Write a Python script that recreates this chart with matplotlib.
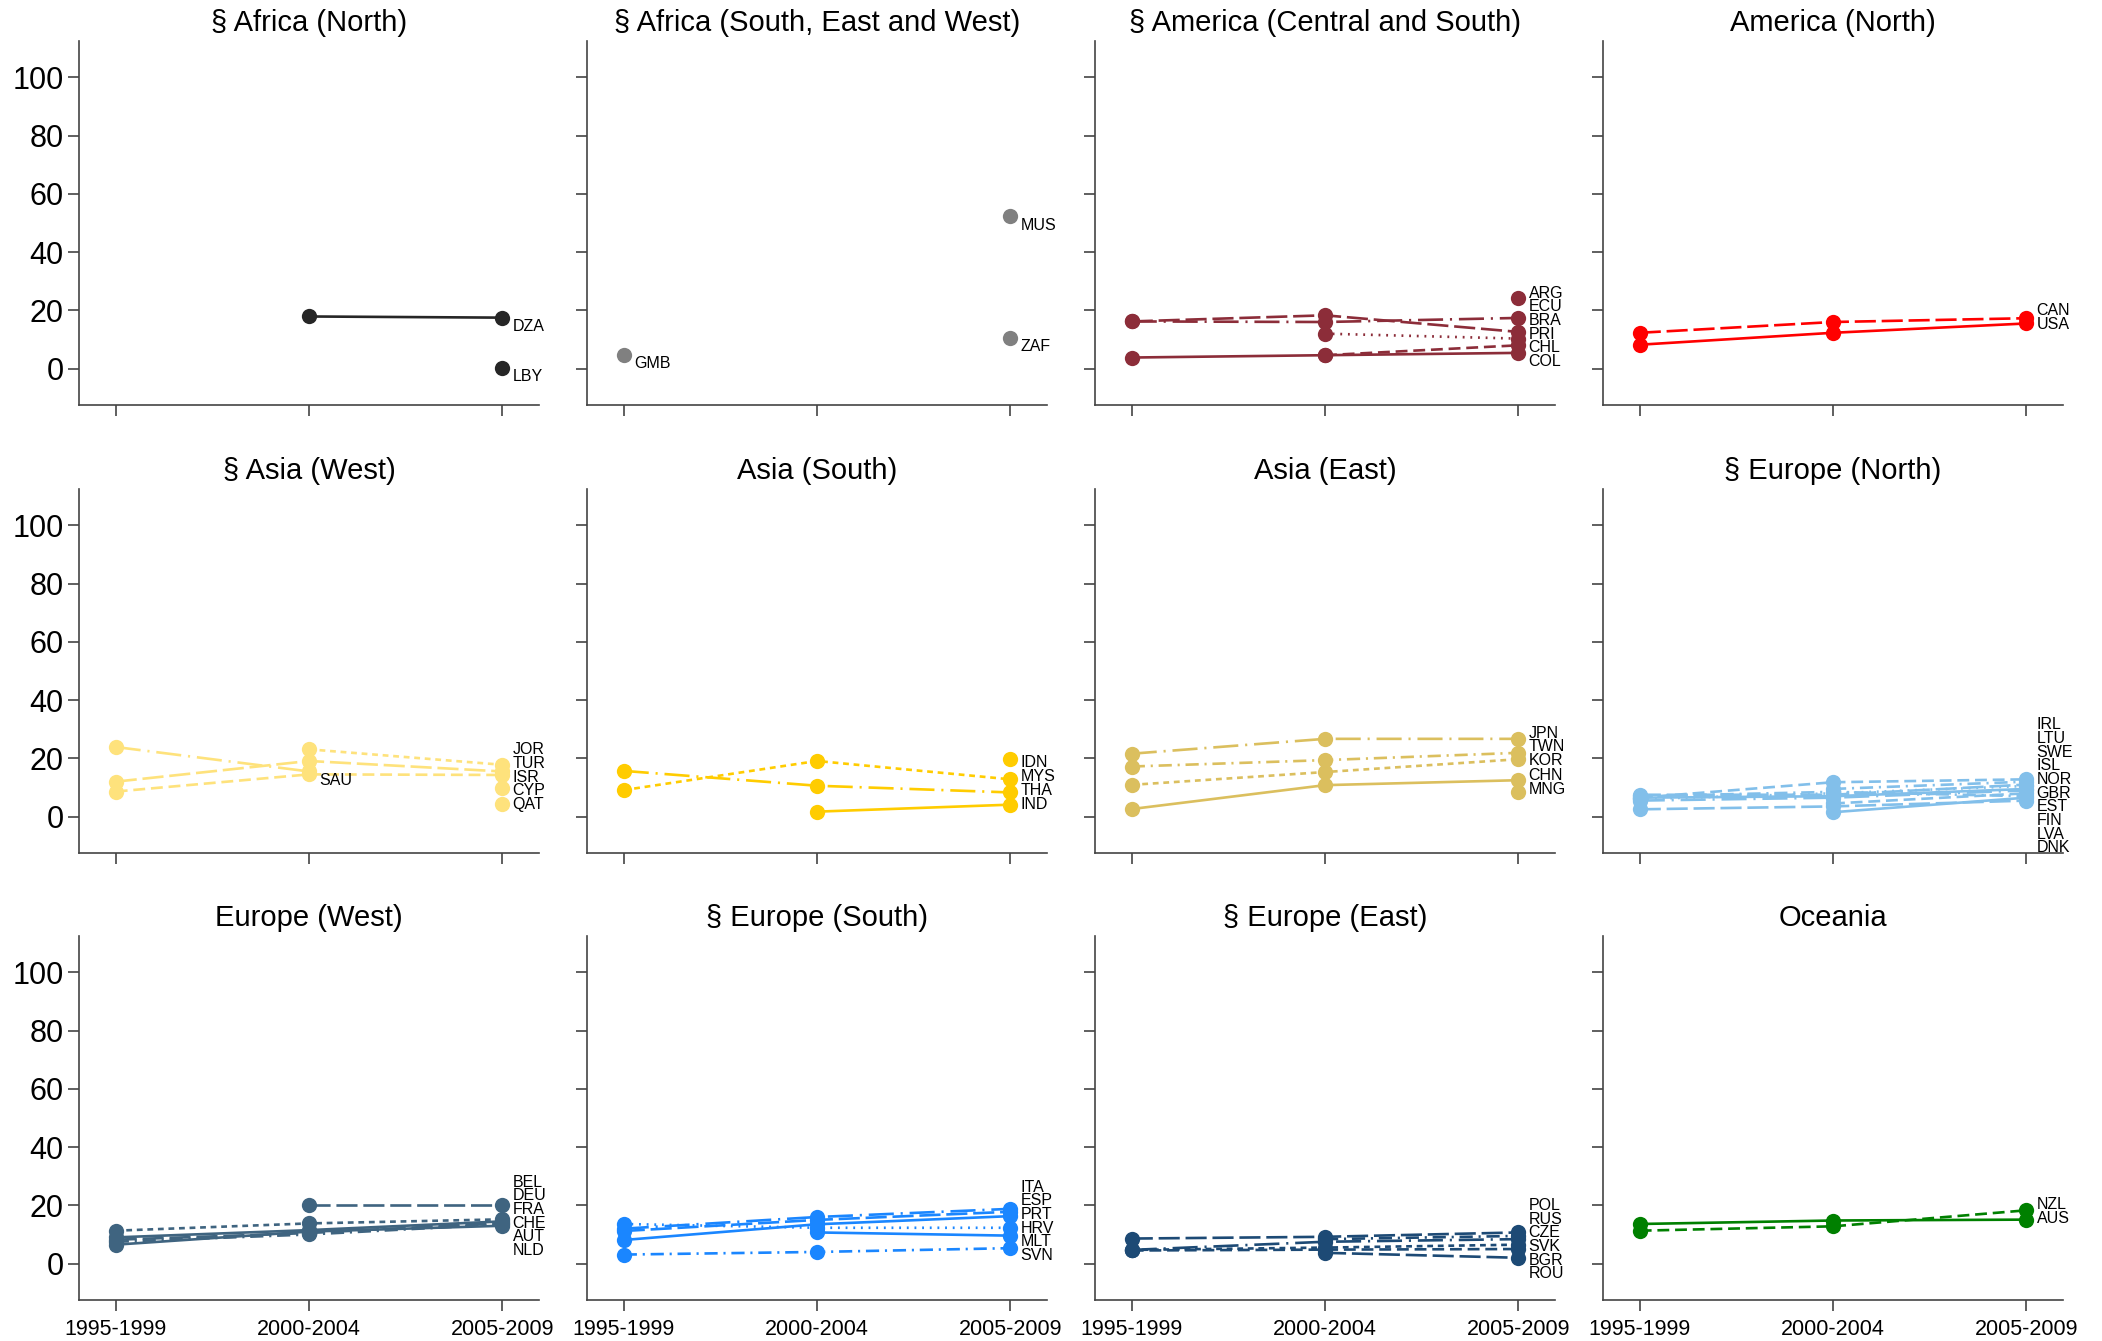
"""
Small multiples: share by region, three periods
"""
import matplotlib
matplotlib.use("Agg")
import matplotlib.pyplot as plt
import numpy as np

plt.rcParams['font.family'] = ['Liberation Sans', 'DejaVu Sans']

nan = np.nan
periods = ['1995-1999', '2000-2004', '2005-2009']

# ---- data, one block per region ----
africa_n_codes = ['DZA', 'LBY']
africa_n_vals = [[nan, 17.9, 17.5], [nan, nan, 0.3]]
africa_n_dash = ['solid', 'solid']

africa_s_codes = ['GMB', 'MUS', 'ZAF']
africa_s_vals = [[4.6, nan, nan], [nan, nan, 52.3], [nan, nan, 10.5]]
africa_s_dash = ['solid', 'solid', 'solid']

america_cs_codes = ['ARG', 'ECU', 'BRA', 'PRI', 'CHL', 'COL']
america_cs_vals = [[nan, nan, 24.2], [16.2, 16.0, 17.4], [16.2, 18.3, 12.6],
                   [nan, 12.0, 10.3], [nan, 4.6, 8.0], [3.8, 4.6, 5.4]]
america_cs_dash = ['solid', 'longdashdot', 'longdash', 'dot', 'dash', 'solid']

america_n_codes = ['CAN', 'USA']
america_n_vals = [[12.3, 16.0, 17.3], [8.2, 12.3, 15.5]]
america_n_dash = ['longdash', 'solid']

asia_w_codes = ['JOR', 'TUR', 'ISR', 'CYP', 'QAT', 'SAU']
asia_w_vals = [[nan, 23.1, 17.8], [12.0, 19.1, 15.5], [8.6, 14.5, 14.3],
               [nan, nan, 9.8], [nan, nan, 4.2], [23.9, 15.5, nan]]
asia_w_dash = ['shortdash', 'longdash', 'dash', 'solid', 'solid', 'longdashdot']

asia_s_codes = ['IDN', 'MYS', 'THA', 'IND']
asia_s_vals = [[nan, nan, 19.7], [9.1, 19.1, 12.8], [15.7, 10.6, 8.3], [nan, 1.7, 4.1]]
asia_s_dash = ['solid', 'shortdash', 'longdashdot', 'solid']

asia_e_codes = ['JPN', 'TWN', 'KOR', 'CHN', 'MNG']
asia_e_vals = [[21.6, 26.7, 26.7], [17.2, 19.4, 21.9], [10.9, 15.3, 19.7],
               [2.6, 10.8, 12.5], [nan, nan, 8.3]]
asia_e_dash = ['longdashdot', 'dashdot', 'shortdash', 'solid', 'solid']

europe_n_codes = ['IRL', 'LTU', 'SWE', 'ISL', 'NOR', 'GBR', 'EST', 'FIN', 'LVA', 'DNK']
europe_n_vals = [[6.5, 11.8, 12.8], [nan, 9.5, 12.0], [7.5, 7.5, 11.0], [6.0, 8.0, 10.5],
                 [6.5, 7.0, 9.5], [5.5, 6.5, 9.0], [nan, 4.5, 8.0], [7.0, 8.5, 7.0],
                 [nan, 1.5, 6.5], [2.5, 3.5, 5.5]]
europe_n_dash = ['dash', 'dashdot', 'longdash', 'dot', 'solid', 'longdashdot',
                 'dash', 'dashdot', 'solid', 'longdash']

europe_w_codes = ['BEL', 'DEU', 'FRA', 'CHE', 'AUT', 'NLD']
europe_w_vals = [[nan, 20.0, 20.0], [11.3, 13.8, 15.2], [9.0, 11.5, 14.5],
                 [8.2, 10.5, 14.0], [7.5, 10.0, 13.5], [6.5, 11.0, 13.0]]
europe_w_dash = ['longdash', 'shortdash', 'solid', 'longdash', 'dashdot', 'solid']

europe_s_codes = ['ITA', 'ESP', 'PRT', 'HRV', 'MLT', 'SVN']
europe_s_vals = [[12.0, 16.0, 18.8], [11.2, 15.0, 17.8], [8.1, 13.5, 16.3],
                 [13.6, 12.3, 12.3], [nan, 10.7, 9.6], [3.1, 4.0, 5.3]]
europe_s_dash = ['longdashdot', 'longdash', 'solid', 'dot', 'solid', 'dashdot']

europe_e_codes = ['POL', 'RUS', 'CZE', 'SVK', 'BGR', 'ROU']
europe_e_vals = [[8.6, 9.2, 10.7], [nan, 8.4, 9.5], [4.7, 7.5, 8.4],
                 [4.7, 5.5, 6.5], [4.5, 4.8, 5.0], [nan, 3.7, 2.0]]
europe_e_dash = ['longdash', 'dashdot', 'longdashdot', 'shortdash', 'dash', 'longdash']

oceania_codes = ['NZL', 'AUS']
oceania_vals = [[11.3, 12.8, 18.3], [13.6, 14.8, 15.1]]
oceania_dash = ['dash', 'solid']

titles = ['§ Africa (North)', '§ Africa (South, East and West)', '§ America (Central and South)',
          'America (North)', '§ Asia (West)', 'Asia (South)', 'Asia (East)', '§ Europe (North)',
          'Europe (West)', '§ Europe (South)', '§ Europe (East)', 'Oceania']
colors = ['#262626', '#808080', '#8c2d39', '#ff0000', '#fee27c', '#ffcc00', '#dbbf5e',
          '#82bfea', '#3f6480', '#1a86ff', '#1d4a75', '#008000']

panels = [
    (africa_n_codes, africa_n_vals, africa_n_dash),
    (africa_s_codes, africa_s_vals, africa_s_dash),
    (america_cs_codes, america_cs_vals, america_cs_dash),
    (america_n_codes, america_n_vals, america_n_dash),
    (asia_w_codes, asia_w_vals, asia_w_dash),
    (asia_s_codes, asia_s_vals, asia_s_dash),
    (asia_e_codes, asia_e_vals, asia_e_dash),
    (europe_n_codes, europe_n_vals, europe_n_dash),
    (europe_w_codes, europe_w_vals, europe_w_dash),
    (europe_s_codes, europe_s_vals, europe_s_dash),
    (europe_e_codes, europe_e_vals, europe_e_dash),
    (oceania_codes, oceania_vals, oceania_dash),
]

DASHES = {
    'solid': '-',
    'longdash': (0, (8, 2.2)),
    'dash': (0, (4.5, 2.2)),
    'shortdash': (0, (2.2, 1.8)),
    'dot': (0, (0.7, 2.2)),
    'dashdot': (0, (5, 2.2, 0.8, 2.2)),
    'longdashdot': (0, (9.5, 2.6, 0.8, 2.6)),
}


def spread(targets, gap):
    """push label positions apart so they don't overlap"""
    targets = np.asarray(targets, float)
    order = np.argsort(-targets)
    y = targets[order].copy()
    for _ in range(500):
        moved = False
        for i in range(1, len(y)):
            over = gap - (y[i - 1] - y[i])
            if over > 1e-6:
                y[i - 1] += over / 2
                y[i] -= over / 2
                moved = True
        if not moved:
            break
    out = np.empty_like(y)
    out[order] = y
    return out


W, H = 2102, 1341
fig = plt.figure(figsize=(W / 100, H / 100), dpi=100)

lefts = [79, 587, 1095, 1603]
bottoms = [405, 853, 1300]
aw, ah = 460, 364
x = np.arange(len(periods))

for k, (codes, vals, dash) in enumerate(panels):
    r, c = divmod(k, 4)
    ax = fig.add_axes([lefts[c] / W, 1 - bottoms[r] / H, aw / W, ah / H])
    col = colors[k]
    vals = np.array(vals, float)

    for v, d in zip(vals, dash):
        ax.plot(x, v, color=col, lw=1.9, linestyle=DASHES[d], marker='o',
                markersize=11, markeredgewidth=0, solid_capstyle='butt',
                dash_capstyle='butt')

    # labels at each series' last point, grouped by period
    last = [np.where(~np.isnan(v))[0][-1] for v in vals]
    for p in range(len(periods)):
        idx = [i for i in range(len(codes)) if last[i] == p]
        if not idx:
            continue
        tgt = np.array([vals[i, p] - 3.0 for i in idx])
        ys = spread(tgt, 4.7)
        ys[np.abs(ys - tgt) > 1e-6] += 4.2   # crowded labels sit a bit higher
        ys = spread(ys, 4.7)
        for i, yy in zip(idx, ys):
            ax.annotate(codes[i], (p, yy), xytext=(7.5, 0), textcoords='offset points',
                        ha='left', va='center', fontsize=11.5, color='black',
                        annotation_clip=False)

    ax.set_xlim(-0.19, 2.19)
    ax.set_ylim(-12.5, 112.5)
    ax.set_xticks(x)
    ax.set_yticks(range(0, 101, 20))
    if r == 2:
        ax.set_xticklabels(periods, fontsize=15.5)
    else:
        ax.set_xticklabels([])
    if c == 0:
        ax.set_yticklabels([str(t) for t in range(0, 101, 20)], fontsize=22)
    else:
        ax.set_yticklabels([])
    for s in ['top', 'right']:
        ax.spines[s].set_visible(False)
    for s in ['left', 'bottom']:
        ax.spines[s].set_color('#444444')
        ax.spines[s].set_linewidth(1.2)
    ax.tick_params(axis='both', direction='out', length=8, width=1.2, color='#444444')
    ax.tick_params(axis='y', pad=3)
    ax.tick_params(axis='x', pad=6)
    ax.set_title(titles[k], fontsize=21, pad=7)

fig.savefig('out.png', dpi=100)
